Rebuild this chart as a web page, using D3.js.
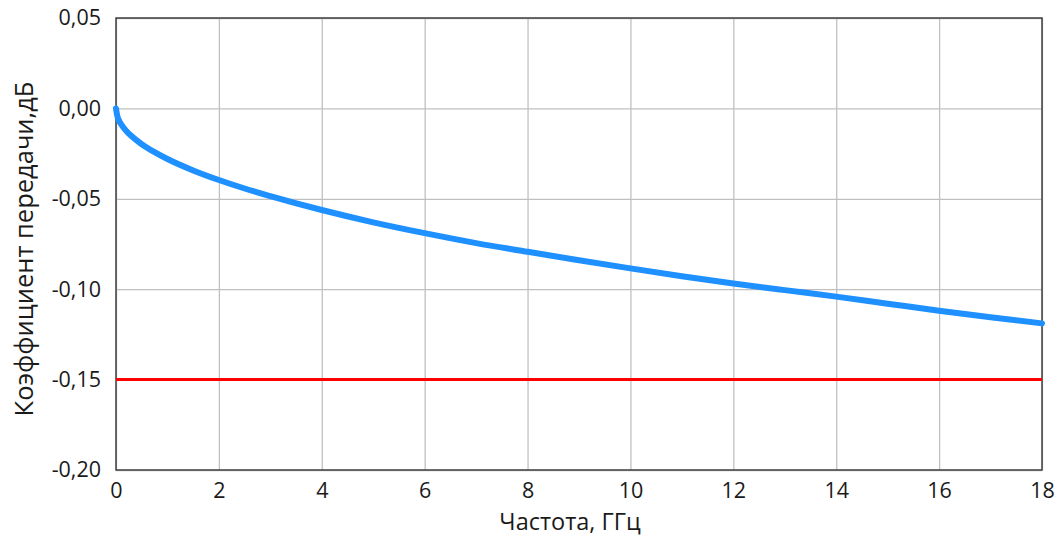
<!DOCTYPE html>
<html><head><meta charset="utf-8">
<script src="https://cdn.jsdelivr.net/npm/d3@7/dist/d3.min.js"></script>
<style>body{margin:0;background:#fff}svg text{font-family:"Open Sans","Noto Sans",sans-serif;fill:#1a1a1a}</style>
</head><body><svg id="c" width="1063" height="544"></svg>
<script>
const freq = [0,0.02,0.05,0.1,0.2,0.3,0.5,0.75,1.0,1.5,2.0,2.5,3.0,4.0,5.0,6.0,7.0,8.0,9.0,10.0,11.0,12.0,13.0,14.0,15.0,16.0,17.0,18.0];
const gain = [0,-0.0035,-0.0062,-0.0088,-0.0125,-0.0153,-0.0198,-0.0242,-0.028,-0.0343,-0.0396,-0.0443,-0.0485,-0.0562,-0.063,-0.069,-0.0745,-0.0793,-0.084,-0.0885,-0.0928,-0.0968,-0.1005,-0.1041,-0.108,-0.1119,-0.1155,-0.1189];
const limitFreq = [0,18];
const limitVal = [-0.15,-0.15];
const xTicks = [0,2,4,6,8,10,12,14,16,18];
const yTicks = [0.05,0,-0.05,-0.10,-0.15,-0.20];
const xTitle = "Частота, ГГц";
const yTitle = "Коэффициент передачи,дБ";

const L=116,R=1042,T=18,B=470;
const svg=d3.select("#c");
const x=d3.scaleLinear().domain([0,18]).range([L,R]);
const y=d3.scaleLinear().domain([-0.20,0.05]).range([B,T]);
const fmt=d=>d3.format(".2f")(d).replace(".",",").replace("−","-");

// grid
svg.append("g").attr("transform",`translate(0,${B})`)
 .call(d3.axisBottom(x).tickValues(xTicks).tickSize(-(B-T)).tickFormat(""))
 .call(g=>{g.select(".domain").remove();g.selectAll("line").attr("stroke","#c0c0c0").attr("stroke-width",1.3);});
svg.append("g").attr("transform",`translate(${L},0)`)
 .call(d3.axisLeft(y).tickValues(yTicks).tickSize(-(R-L)).tickFormat(""))
 .call(g=>{g.select(".domain").remove();g.selectAll("line").attr("stroke","#c0c0c0").attr("stroke-width",1.3);});

// frame
svg.append("rect").attr("x",L).attr("y",T).attr("width",R-L).attr("height",B-T)
 .attr("fill","none").attr("stroke","#404040").attr("stroke-width",1.5);

// tick labels
svg.append("g").attr("transform",`translate(0,${B})`)
 .call(d3.axisBottom(x).tickValues(xTicks).tickSize(0).tickPadding(13).tickFormat(d=>d))
 .call(g=>{g.select(".domain").remove();g.selectAll("text").attr("font-size",21.5).attr("font-family",null);});
svg.append("g").attr("transform",`translate(${L},0)`)
 .call(d3.axisLeft(y).tickValues(yTicks).tickSize(0).tickPadding(15).tickFormat(fmt))
 .call(g=>{g.select(".domain").remove();g.selectAll("text").attr("font-size",21.5).attr("font-family",null);});

// lines
const line=d3.line().x(d=>x(d[0])).y(d=>y(d[1])).curve(d3.curveMonotoneX);
svg.append("path").datum(limitFreq.map((f,i)=>[f,limitVal[i]]))
 .attr("d",line).attr("fill","none").attr("stroke","#ff0000").attr("stroke-width",3);
svg.append("path").datum(freq.map((f,i)=>[f,gain[i]]))
 .attr("d",line).attr("fill","none").attr("stroke","#1e90ff").attr("stroke-width",6).attr("stroke-linecap","round");

// titles
svg.append("text").attr("x",570).attr("y",530).attr("text-anchor","middle")
 .attr("font-size",23.5).text(xTitle);
svg.append("text").attr("transform",`translate(33,${(T+B)/2+5}) rotate(-90)`).attr("text-anchor","middle")
 .attr("font-size",25.5).text(yTitle);
</script></body></html>
